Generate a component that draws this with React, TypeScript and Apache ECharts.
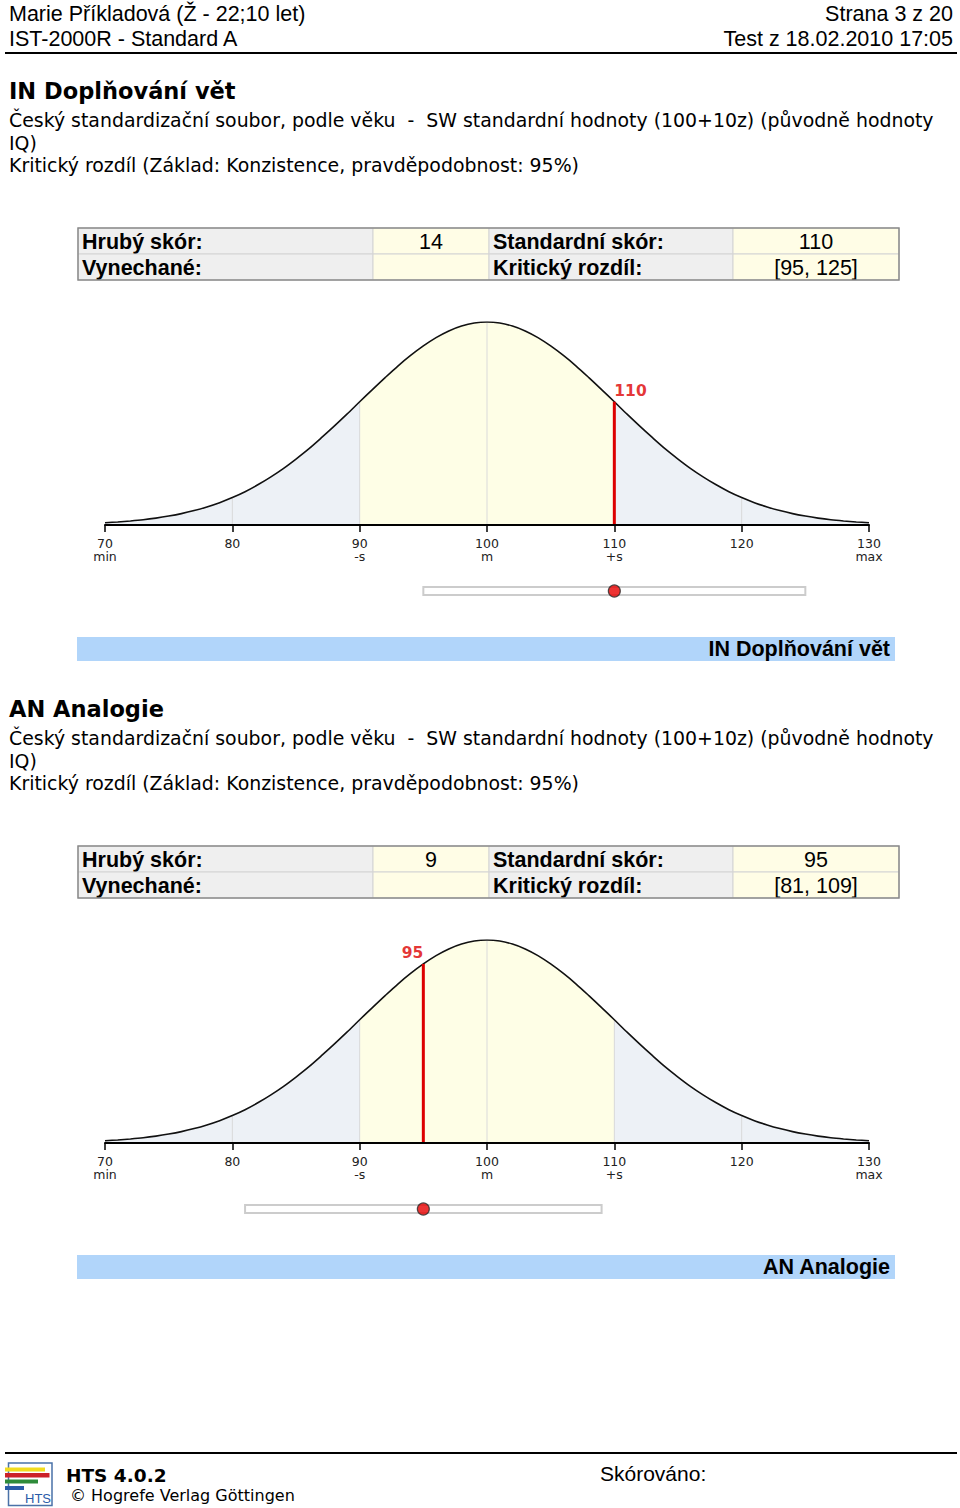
import React, { useEffect, useRef } from 'react';
import * as echarts from 'echarts';

// ---- data (curve height in % of the peak, at each score 70..130) ----
const curveX = [
  70, 71, 72, 73, 74, 75, 76, 77, 78, 79, 80, 81, 82, 83, 84, 85, 86, 87, 88, 89, 90, 91, 92, 93, 94, 95, 96, 97, 98, 99,
  100, 101, 102, 103, 104, 105, 106, 107, 108, 109, 110, 111, 112, 113, 114, 115, 116, 117, 118, 119, 120, 121, 122, 123,
  124, 125, 126, 127, 128, 129, 130,
];
const curveY = [
  1.1, 1.5, 2.0, 2.6, 3.4, 4.4, 5.6, 7.1, 8.9, 11.0, 13.5, 16.4, 19.8, 23.6, 27.8, 32.5, 37.5, 43.0, 48.7, 54.6, 60.7,
  66.7, 72.6, 78.3, 83.5, 88.2, 92.3, 95.6, 98.0, 99.5, 100, 99.5, 98.0, 95.6, 92.3, 88.2, 83.5, 78.3, 72.6, 66.7, 60.7,
  54.6, 48.7, 43.0, 37.5, 32.5, 27.8, 23.6, 19.8, 16.4, 13.5, 11.0, 8.9, 7.1, 5.6, 4.4, 3.4, 2.6, 2.0, 1.5, 1.1,
];
const tickValues = [70, 80, 90, 100, 110, 120, 130];
const tickSubLabels = ['min', '', '-s', 'm', '+s', '', 'max'];
const gridLineX = [80, 90, 100, 110, 120];
const meanBand = [90, 110];

const sectionTitles = ['IN Doplňování vět', 'AN Analogie'];
const rawScores = ['14', '9'];
const omittedValues = ['', ''];
const standardScores = [110, 95];
const critLow = [95, 81];
const critHigh = [125, 109];

const headerLeft = ['Marie Příkladová (Ž - 22;10 let)', 'IST-2000R - Standard A'];
const headerRight = ['Strana 3 z 20', 'Test z 18.02.2010 17:05'];
const normLines = [
  'Český standardizační soubor, podle věku  -  SW standardní hodnoty (100+10z) (původně hodnoty',
  'IQ)',
  'Kritický rozdíl (Základ: Konzistence, pravděpodobnost: 95%)',
];

const VERD = '"DejaVu Sans", Verdana, sans-serif';
const TAH = '"Liberation Sans", Arial, sans-serif';
const tailFill = '#edf1f6';
const bandFill = '#fefee6';
const RED = '#dd0000';

function txt(x: number, y: number, text: string, font: string, align = 'left', fill = '#000') {
  return {
    type: 'text',
    x,
    y,
    silent: true,
    style: { text, font, fill, textAlign: align, textVerticalAlign: 'middle' },
  };
}
function rect(x: number, y: number, w: number, h: number, fill: string, stroke?: string, lw = 1) {
  return {
    type: 'rect',
    silent: true,
    shape: { x, y, width: w, height: h },
    style: { fill, stroke: stroke || 'none', lineWidth: lw },
  };
}

function curveAt(x: number) {
  const i = curveX.indexOf(x);
  return i >= 0 ? curveY[i] : 0;
}

export default function App() {
  const ref = useRef<HTMLDivElement>(null);
  useEffect(() => {
    const chart = echarts.init(ref.current!, null, { renderer: 'svg' });
    const curveData = curveX.map((x, i) => [x, curveY[i]]);
    const graphics: any[] = [];

    // header
    graphics.push(txt(9, 14, headerLeft[0], `21.5px ${TAH}`));
    graphics.push(txt(953, 14, headerRight[0], `21.5px ${TAH}`, 'right'));
    graphics.push(txt(9, 39, headerLeft[1], `21.5px ${TAH}`));
    graphics.push(txt(953, 39, headerRight[1], `21.5px ${TAH}`, 'right'));
    graphics.push(rect(5, 52, 952, 2, '#000'));

    const grids: any[] = [];
    const xAxes: any[] = [];
    const yAxes: any[] = [];
    const series: any[] = [];
    const visualMaps: any[] = [];

    sectionTitles.forEach((title, s) => {
      const off = s * 618;
      graphics.push(txt(9, 91 + off, title, `bold 22.5px ${VERD}`));
      graphics.push(txt(9, 120 + off, normLines[0], `18.9px ${VERD}`));
      graphics.push(txt(9, 143 + off, normLines[1], `18.9px ${VERD}`));
      graphics.push(txt(9, 165 + off, normLines[2], `18.9px ${VERD}`));

      // table
      const colX = [78, 373, 489, 733, 899];
      const rowY = [228 + off, 254 + off, 280 + off];
      const cells = [
        ['Hrubý skór:', rawScores[s], 'Standardní skór:', String(standardScores[s])],
        ['Vynechané:', omittedValues[s], 'Kritický rozdíl:', `[${critLow[s]}, ${critHigh[s]}]`],
      ];
      cells.forEach((row, r) => {
        row.forEach((c, ci) => {
          const isLabel = ci % 2 === 0;
          graphics.push(
            rect(colX[ci], rowY[r], colX[ci + 1] - colX[ci], rowY[r + 1] - rowY[r], isLabel ? '#efefef' : '#fffde6', '#d4d4d4', 1)
          );
          const cy = (rowY[r] + rowY[r + 1]) / 2 + 1;
          if (isLabel) graphics.push(txt(colX[ci] + 4, cy, c, `bold 21.5px ${TAH}`));
          else graphics.push(txt((colX[ci] + colX[ci + 1]) / 2, cy, c, `21.5px ${TAH}`, 'center'));
        });
      });
      graphics.push(rect(78, 228 + off, 821, 52, 'none', '#8a8a8a', 1.5));

      // blue bar
      graphics.push(rect(77, 637 + off, 818, 24, '#b1d5fa'));
      graphics.push(txt(890, 649 + off, title, `bold 21.5px ${TAH}`, 'right'));

      // chart grid
      const gi = grids.length;
      grids.push({ left: 105, top: 322 + off, width: 764, height: 203 });
      grids.push({ left: 105, top: 585 + off, width: 764, height: 12 });
      xAxes.push({
        gridIndex: gi,
        type: 'value',
        min: 70,
        max: 130,
        interval: 10,
        z: 10,
        axisLine: { lineStyle: { color: '#000', width: 2 } },
        axisTick: { length: 7, lineStyle: { color: '#000', width: 1.5 } },
        splitLine: { show: false },
        axisLabel: {
          fontFamily: VERD,
          fontSize: 12.5,
          color: '#222',
          lineHeight: 13,
          margin: 12,
          formatter: (v: number) => {
            const i = tickValues.indexOf(v);
            const sub = i >= 0 ? tickSubLabels[i] : '';
            return sub ? `${v}\n${sub}` : `${v}`;
          },
        },
      });
      xAxes.push({ gridIndex: gi + 1, type: 'value', min: 70, max: 130, show: false });
      yAxes.push({ gridIndex: gi, type: 'value', min: 0, max: 100, show: false });
      yAxes.push({ gridIndex: gi + 1, type: 'value', min: 0, max: 1, show: false });

      const areaIdx = series.length;
      series.push({
        type: 'line',
        xAxisIndex: gi,
        yAxisIndex: gi,
        data: curveData,
        smooth: 0.3,
        showSymbol: false,
        silent: true,
        z: 1,
        lineStyle: { width: 0 },
        areaStyle: { opacity: 1 },
      });
      visualMaps.push({
        type: 'piecewise',
        show: false,
        dimension: 0,
        seriesIndex: areaIdx,
        pieces: [
          { lt: meanBand[0], color: tailFill },
          { gte: meanBand[0], lte: meanBand[1], color: bandFill },
          { gt: meanBand[1], color: tailFill },
        ],
      });
      series.push({
        type: 'bar',
        xAxisIndex: gi,
        yAxisIndex: gi,
        data: gridLineX.map((x) => [x, curveAt(x)]),
        barWidth: 1,
        silent: true,
        z: 2,
        itemStyle: { color: '#d9d9d9' },
      });
      series.push({
        type: 'line',
        xAxisIndex: gi,
        yAxisIndex: gi,
        data: curveData,
        smooth: 0.3,
        showSymbol: false,
        silent: true,
        z: 3,
        lineStyle: { color: '#111', width: 1.6 },
      });
      const sc = standardScores[s];
      const h = curveAt(sc);
      series.push({
        type: 'line',
        xAxisIndex: gi,
        yAxisIndex: gi,
        data: [[sc, 0], [sc, h]],
        showSymbol: false,
        silent: true,
        z: 4,
        lineStyle: { color: RED, width: 3 },
      });
      series.push({
        type: 'scatter',
        xAxisIndex: gi,
        yAxisIndex: gi,
        data: [[sc, h]],
        symbolSize: 0.1,
        silent: true,
        z: 5,
        itemStyle: { color: RED },
        label: {
          show: true,
          position: 'top',
          distance: 3,
          align: sc >= 100 ? 'left' : 'right',
          formatter: String(sc),
          color: RED,
          fontFamily: VERD,
          fontWeight: 'bold',
          fontSize: 15.5,
        },
      });
      // slider: critical-difference interval
      series.push({
        type: 'custom',
        xAxisIndex: gi + 1,
        yAxisIndex: gi + 1,
        data: [[critLow[s], critHigh[s]]],
        silent: true,
        z: 1,
        renderItem: (params: any, api: any) => {
          const p0 = api.coord([api.value(0), 0.5]);
          const p1 = api.coord([api.value(1), 0.5]);
          return {
            type: 'rect',
            shape: { x: p0[0], y: p0[1] - 4, width: p1[0] - p0[0], height: 8 },
            style: { fill: '#ffffff', stroke: '#cccccc', lineWidth: 2 },
          };
        },
      });
      series.push({
        type: 'scatter',
        xAxisIndex: gi + 1,
        yAxisIndex: gi + 1,
        data: [[sc, 0.5]],
        symbolSize: 12,
        silent: true,
        z: 3,
        itemStyle: { color: '#e80000', borderColor: '#2a2a2a', borderWidth: 1.2 },
      });
    });

    // footer
    graphics.push(rect(5, 1452, 952, 2, '#000'));
    graphics.push(rect(8.5, 1463, 43.5, 42.5, 'none', '#4a72a8', 1.5));
    graphics.push(rect(5, 1467.5, 40, 4, '#f2dc1e'));
    graphics.push(rect(5, 1473, 44.5, 4.5, '#cc2128'));
    graphics.push(rect(5, 1479.5, 33, 4, '#2e8b3a'));
    graphics.push(rect(5, 1486, 19, 4, '#2a5ba8'));
    graphics.push(txt(38, 1498, 'HTS', `13px ${TAH}`, 'center', '#2a5ba8'));
    graphics.push(txt(66, 1475, 'HTS 4.0.2', `bold 18.5px ${VERD}`));
    graphics.push(txt(70, 1495, '© Hogrefe Verlag Göttingen', `16px ${VERD}`));
    graphics.push(txt(600, 1473, 'Skórováno:', `21px ${TAH}`));

    chart.setOption({
      animation: false,
      backgroundColor: '#ffffff',
      grid: grids,
      xAxis: xAxes,
      yAxis: yAxes,
      visualMap: visualMaps,
      series,
      graphic: graphics,
    });
    return () => chart.dispose();
  }, []);
  return (
    <div
      ref={ref}
      style={{ position: 'absolute', left: 0, top: 0, width: 960, height: 1508, background: '#fff' }}
    />
  );
}
